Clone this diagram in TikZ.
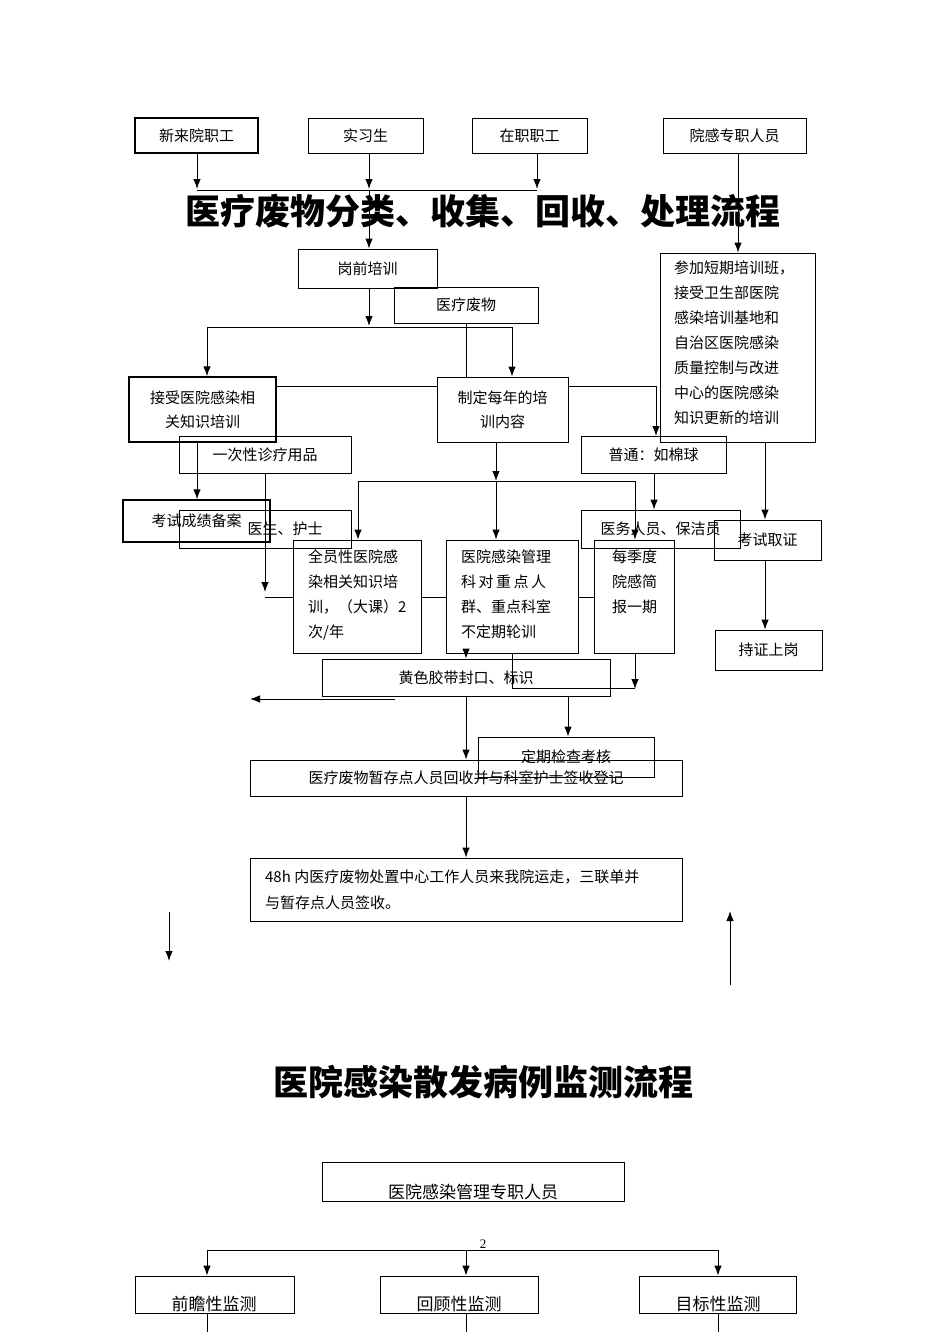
\documentclass[tikz,border=0pt]{standalone}
\usepackage{fontspec}
\setmainfont{Liberation Serif}
\newfontfamily\cjk{Noto Sans CJK SC}
\usetikzlibrary{calc,arrows.meta}
\tikzset{
  x=1pt,y=-1pt,
  box/.style={draw,line width=0.8pt,inner sep=0pt,font=\cjk\fontsize{15}{24}\selectfont},
  tbox/.style={box,line width=1.4pt},
  arr/.style={-{Latex[length=10pt,width=7.5pt]},line width=1pt},
  ln/.style={line width=1pt},
  mtext/.style={font=\cjk\fontsize{15}{25}\selectfont,align=left,anchor=north west},
}
\newcommand{\bx}[7][box]{%
  \pgfmathsetmacro{\cxx}{(#3+#5)/2}\pgfmathsetmacro{\cyy}{(#4+#6)/2}%
  \pgfmathsetmacro{\wdd}{#5-#3}\pgfmathsetmacro{\htt}{#6-#4}%
  \node[#1,minimum width=\wdd pt,minimum height=\htt pt,align=center] (#2) at (\cxx,\cyy) {#7};}
\begin{document}
\begin{tikzpicture}
\useasboundingbox (0,0) rectangle (950,1344);
% top row
\bx[tbox]{a1}{135}{118}{258}{153}{新来院职工}
\bx{a2}{308}{118}{423}{153}{实习生}
\bx{a3}{472}{118}{587}{153}{在职职工}
\bx{a4}{663}{118}{806}{153}{院感专职人员}
\coordinate (j1) at (197,190);
\coordinate (j3) at (537,190);
\draw[arr] (a1.south -| 197,0) -- (197,189);
\draw[arr] (a2.south -| 369,0) -- (369,189);
\draw[arr] (a3.south -| 537,0) -- (537,189);
\draw[ln] (j1) -- (j3);
\node[font=\cjk\bfseries\fontsize{35}{35}\selectfont] (title) at (483,211) {医疗废物分类、收集、回收、处理流程};
\bx{b1}{298}{249}{437}{288}{岗前培训}
\bx{b2}{394}{287}{538}{323}{医疗废物}
\bx{r1}{660}{253}{815}{442}{}
\node[mtext] (r1t) at (r1.north west) [xshift=11pt,yshift=-5pt] {参加短期培训班，\\接受卫生部医院\\感染培训基地和\\自治区医院感染\\质量控制与改进\\中心的医院感染\\知识更新的培训};
\draw[arr] (369,190) -- (b1.north -| 369,0);
\draw[arr] (a4.south -| 738,0) -- (r1.north -| 738,0);
\draw[arr] (b1.south -| 369,0) -- (369,326);
\coordinate (k1) at (207,327);
\coordinate (k2) at (512,327);
\draw[ln] (k1) -- (k2);
\bx[tbox]{c1}{129}{377}{276}{442}{接受医院感染相\\关知识培训}
\bx{c2}{437}{377}{568}{442}{制定每年的培\\训内容}
\draw[arr] (k1) -- (c1.north -| k1);
\draw[arr] (k2) -- (c2.north -| k2);
\draw[ln] (b2.south -| 466,0) -- (c2.north -| 466,0);
\draw[ln] (c1.east |- 0,386) -- (c2.west |- 0,386);
\bx{d1}{179}{436}{351}{473}{一次性诊疗用品}
\bx{d2}{581}{436}{726}{473}{普通：如棉球}
\draw[arr] (c2.east |- 0,386) -| (656,436);
\bx[tbox]{e1}{123}{500}{270}{542}{考试成绩备案}
\bx{e2}{179}{510}{351}{548}{\hspace{40pt}医生、护士}
\bx{e3}{581}{510}{740}{548}{医务人员、保洁员}
\bx{e4}{714}{520}{821}{560}{考试取证}
\bx{e5}{715}{630}{822}{670}{持证上岗}
\draw[arr] (c1.south -| 197,0) -- (e1.north -| 197,0);
\draw[arr] (d2.south -| 654,0) -- (e3.north -| 654,0);
\draw[arr] (r1.south -| 765,0) -- (e4.north -| 765,0);
\draw[arr] (e4.south -| 765,0) -- (e5.north -| 765,0);
\bx{f1}{293}{540}{421}{653}{}
\bx{f2}{446}{540}{578}{653}{}
\bx{f3}{594}{540}{674}{653}{}
\node[mtext] (f1t) at (f1.north west) [xshift=12pt,yshift=-7pt] {全员性医院感\\染相关知识培\\训，（大课）2\\次/年};
\node[mtext] (f2t) at (f2.north west) [xshift=12pt,yshift=-7pt] {医院感染管理\\科\,对\,重\,点\,人\\群、重点科室\\不定期轮训};
\node[mtext] (f3t) at (f3.north west) [xshift=15pt,yshift=-7pt] {每季度\\院感简\\报一期};
\draw[arr] (c2.south -| 496,0) -- (496,481);
\coordinate (m1) at (358,481);
\coordinate (m2) at (635,481);
\draw[ln] (m1) -- (m2);
\draw[arr] (m1) -- (f1.north -| m1);
\draw[arr] (496,481) -- (f2.north -| 496,0);
\draw[arr] (m2) -- (f3.north -| m2);
\draw[arr] (d1.south -| 265,0) -- (265,592);
\draw[ln] (265,597) -- (f1.west |- 0,597);
\draw[ln] (f1.east |- 0,597) -- (f2.west |- 0,597);
\draw[ln] (f2.east |- 0,597) -- (f3.west |- 0,597);
\bx{g1}{322}{659}{610}{696}{黄色胶带封口、标识}
\draw[arr] (f2.south -| 466,0) -- (g1.north -| 466,0);
\draw[ln] (f2.south -| 512,0) |- (635,688);
\draw[arr] (f3.south -| 635,0) -- (635,689);
\coordinate (lft) at (250,699);
\draw[arr] (395,699) -- (lft);
\bx{h1}{478}{737}{654}{777}{定期检查考核}
\bx{h2}{250}{760}{682}{796}{医疗废物暂存点人员回收并与科室护士签收登记}
\draw[arr] (g1.south -| 466,0) -- (h2.north -| 466,0);
\draw[arr] (g1.south -| 568,0) -- (h1.north -| 568,0);
\bx{h3}{250}{858}{682}{921}{}
\node[font=\cjk\fontsize{15}{26}\selectfont,align=left,anchor=west] (h3t) at (h3.west) [xshift=12pt] {48h 内医疗废物处置中心工作人员来我院运走，三联单并\\与暂存点人员签收。};
\draw[arr] (h2.south -| 466,0) -- (h3.north -| 466,0);
\coordinate (p1) at (169,912);
\coordinate (p2) at (169,961);
\draw[arr] (p1) -- (p2);
\coordinate (q1) at (730,985);
\coordinate (q2) at (730,911);
\draw[arr] (q1) -- (q2);
% second chart
\node[font=\cjk\bfseries\fontsize{35}{35}\selectfont] (title2) at (483,1082) {医院感染散发病例监测流程};
\bx{s0}{322}{1162}{624}{1201}{}
\node[font=\cjk\fontsize{17}{17}\selectfont] (s0t) at (473,1192) {医院感染管理专职人员};
\node[font=\fontsize{13}{13}\selectfont] (pg) at (483,1244) {2};
\coordinate (t1) at (207,1250);
\coordinate (t3) at (718,1250);
\draw[ln] (t1) -- (t3);
\bx{s1}{135}{1276}{294}{1313}{}
\bx{s2}{380}{1276}{538}{1313}{}
\bx{s3}{639}{1276}{796}{1313}{}
\node[font=\cjk\fontsize{17}{17}\selectfont] (s1t) at (214,1304) {前瞻性监测};
\node[font=\cjk\fontsize{17}{17}\selectfont] (s2t) at (459,1304) {回顾性监测};
\node[font=\cjk\fontsize{17}{17}\selectfont] (s3t) at (718,1304) {目标性监测};
\draw[arr] (t1) -- (s1.north -| t1);
\draw[arr] (466,1250) -- (s2.north -| 466,0);
\draw[arr] (t3) -- (s3.north -| t3);
\draw[ln] (s1.south -| 207,0) -- (207,1332);
\draw[ln] (s2.south -| 466,0) -- (466,1332);
\draw[ln] (s3.south -| 718,0) -- (718,1332);
\end{tikzpicture}
\end{document}
